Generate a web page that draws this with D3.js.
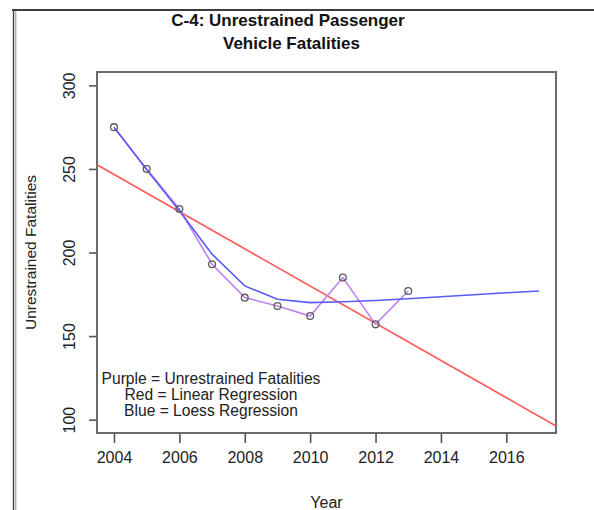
<!DOCTYPE html>
<html>
<head>
<meta charset="utf-8">
<script src="https://cdn.jsdelivr.net/npm/d3@7/dist/d3.min.js"></script>
<style>
  html, body { margin: 0; padding: 0; background: #fff; }
  svg { display: block; font-family: "Liberation Sans", Arial, sans-serif; }
</style>
</head>
<body>
<svg id="chart" width="594" height="510"></svg>
<script>
// ---- data ----
const years = [2004, 2005, 2006, 2007, 2008, 2009, 2010, 2011, 2012, 2013];
const fatalities = [275, 250, 226, 193, 173, 168, 162, 185, 157, 177];

const loessYears = [2004, 2005, 2006, 2007, 2008, 2009, 2010, 2011, 2012, 2013, 2014, 2015, 2016, 2017];
const loessValues = [275, 249.5, 225, 199, 180, 172, 170, 170.5, 171.3, 172.3, 173.5, 174.7, 175.9, 177];

// linear regression line, value read at two years
const linearYears = [2004, 2017];
const linearValues = [246.7, 102.0];

const xTicks = [2004, 2006, 2008, 2010, 2012, 2014, 2016];
const yTicks = [100, 150, 200, 250, 300];

const titleLines = ["C-4: Unrestrained Passenger", "Vehicle Fatalities"];
const legendLines = ["Purple = Unrestrained Fatalities", "Red = Linear Regression", "Blue = Loess Regression"];

// ---- layout ----
const svg = d3.select("#chart");
const box = { left: 97, right: 556, top: 72, bottom: 433 };

const x = d3.scaleLinear().domain([2003.48, 2017.52]).range([box.left, box.right]);
const y = d3.scaleLinear().domain([92, 308]).range([box.bottom, box.top]);

// outer frame
svg.append("line").attr("x1", 12).attr("x2", 594).attr("y1", 10).attr("y2", 10)
  .attr("stroke", "#3c3c3c").attr("stroke-width", 2);
svg.append("line").attr("x1", 13.5).attr("x2", 13.5).attr("y1", 9).attr("y2", 510)
  .attr("stroke", "#3c3c3c").attr("stroke-width", 1.4);
svg.append("line").attr("x1", 15.8).attr("x2", 15.8).attr("y1", 11).attr("y2", 510)
  .attr("stroke", "#8a8a8a").attr("stroke-width", 1);

// clip for abline
svg.append("clipPath").attr("id", "plotclip").append("rect")
  .attr("x", box.left).attr("y", box.top)
  .attr("width", box.right - box.left).attr("height", box.bottom - box.top);

// title
svg.append("text").attr("x", 288).attr("y", 26).attr("text-anchor", "middle")
  .attr("font-weight", "bold").attr("font-size", 17).attr("fill", "#111")
  .text(titleLines[0]);
svg.append("text").attr("x", 291.5).attr("y", 49).attr("text-anchor", "middle")
  .attr("font-weight", "bold").attr("font-size", 17).attr("fill", "#111")
  .text(titleLines[1]);

// axes
const axisColor = "#555";
const xAxis = svg.append("g").attr("transform", `translate(0,${box.bottom})`)
  .call(d3.axisBottom(x).tickValues(xTicks).tickFormat(d3.format("d")).tickSize(10).tickPadding(9));
xAxis.select(".domain").remove();
xAxis.selectAll(".tick line").attr("stroke", axisColor).attr("stroke-width", 1.6);
xAxis.selectAll(".tick text").attr("font-size", 16).attr("fill", "#222")
  .attr("font-family", "Liberation Sans, Arial, sans-serif");

const yAxis = svg.append("g").attr("transform", `translate(${box.left},0)`)
  .call(d3.axisLeft(y).tickValues(yTicks).tickSize(8).tickFormat(d3.format("d")));
yAxis.select(".domain").remove();
yAxis.selectAll(".tick line").attr("stroke", axisColor).attr("stroke-width", 1.6);
yAxis.selectAll(".tick text").remove();
yAxis.selectAll(".tick").append("text")
  .attr("transform", "translate(-22,0) rotate(-90)")
  .attr("text-anchor", "middle").attr("font-size", 16).attr("fill", "#222")
  .attr("font-family", "Liberation Sans, Arial, sans-serif")
  .text(d => d);

// plot box
svg.append("rect").attr("x", box.left).attr("y", box.top)
  .attr("width", box.right - box.left).attr("height", box.bottom - box.top)
  .attr("fill", "none").attr("stroke", "#6a6a6a").attr("stroke-width", 2);

// axis titles
svg.append("text").attr("x", 326.5).attr("y", 508).attr("text-anchor", "middle")
  .attr("font-size", 16).attr("fill", "#222").text("Year");
svg.append("text").attr("transform", "translate(36,252.5) rotate(-90)")
  .attr("text-anchor", "middle").attr("font-size", 15.5).attr("fill", "#222")
  .text("Unrestrained Fatalities");

// linear regression (extended across the plot like abline)
const slope = (linearValues[1] - linearValues[0]) / (linearYears[1] - linearYears[0]);
const xd = x.domain();
const linePts = xd.map(v => [v, linearValues[0] + slope * (v - linearYears[0])]);
svg.append("path").attr("clip-path", "url(#plotclip)")
  .attr("d", d3.line().x(d => x(d[0])).y(d => y(d[1]))(linePts))
  .attr("fill", "none").attr("stroke", "#ff5a5a").attr("stroke-width", 1.6);

// purple data line
const dataPts = years.map((yr, i) => [yr, fatalities[i]]);
svg.append("path")
  .attr("d", d3.line().x(d => x(d[0])).y(d => y(d[1]))(dataPts))
  .attr("fill", "none").attr("stroke", "#bf80f4").attr("stroke-width", 1.6);

// blue loess line
const loessPts = loessYears.map((yr, i) => [yr, loessValues[i]]);
svg.append("path")
  .attr("d", d3.line().x(d => x(d[0])).y(d => y(d[1]))(loessPts))
  .attr("fill", "none").attr("stroke", "#5a5aff").attr("stroke-width", 1.6);

// points
svg.append("g").selectAll("circle").data(dataPts).join("circle")
  .attr("cx", d => x(d[0])).attr("cy", d => y(d[1])).attr("r", 3.4)
  .attr("fill", "none").attr("stroke", "#5a5a5a").attr("stroke-width", 1.3);

// legend text
legendLines.forEach((t, i) => {
  svg.append("text").attr("x", 211).attr("y", 383.5 + i * 16.3)
    .attr("text-anchor", "middle").attr("font-size", 15.6).attr("fill", "#222")
    .text(t);
});
</script>
</body>
</html>
